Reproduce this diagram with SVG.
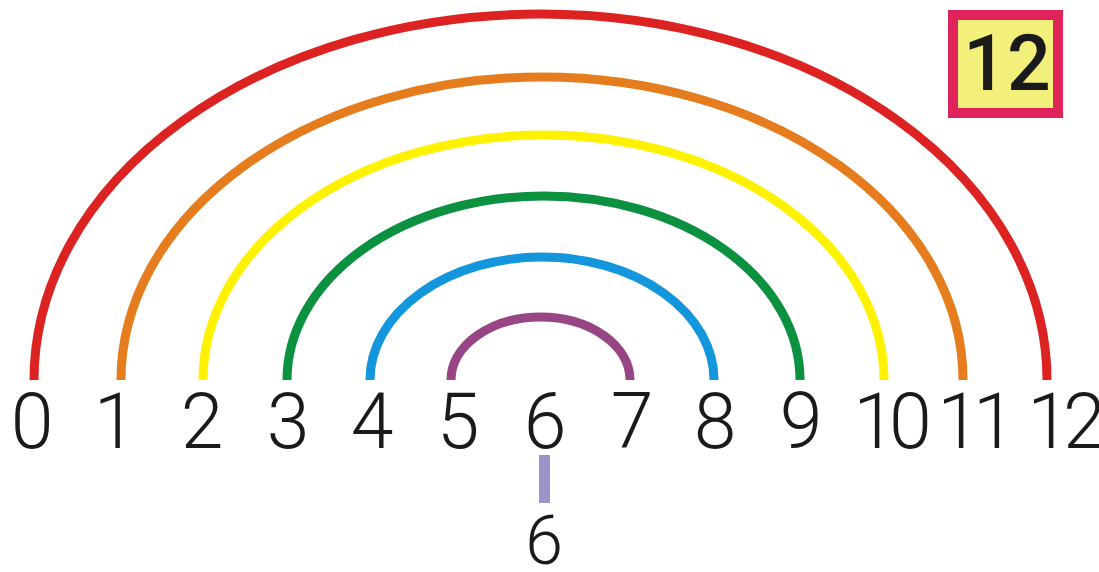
<svg xmlns="http://www.w3.org/2000/svg" width="1099" height="572" viewBox="0 0 1099 572">
<style>
.arc{fill:none;stroke-width:9;stroke-linecap:butt}
.num{font-family:Roboto,"Liberation Sans",sans-serif;font-weight:300;font-size:77px;fill:#1a1a1a;text-anchor:middle}
.two{letter-spacing:-7px}
</style>
<rect width="1099" height="572" fill="#ffffff"/>
<g id="connectors">
<path id="arc-0-12" class="arc" stroke="#dc2322" d="M34 380 A506.5 366 0 0 1 1047 380"/>
<path id="arc-1-11" class="arc" stroke="#e57d1e" d="M121 380 A421 303 0 0 1 963 380"/>
<path id="arc-2-10" class="arc" stroke="#fff200" d="M203 380 A340.5 245 0 0 1 884 380"/>
<path id="arc-3-9" class="arc" stroke="#0b9140" d="M287 380 A256.5 184 0 0 1 800 380"/>
<path id="arc-4-8" class="arc" stroke="#1496dc" d="M370 380 A172 123 0 0 1 714 380"/>
<path id="arc-5-7" class="arc" stroke="#984585" d="M451 380 A89.5 63 0 0 1 630 380"/>
<line id="bar-6" x1="544.5" y1="455" x2="544.5" y2="503" stroke="#9a94c8" stroke-width="11"/>
</g>
<g id="n0"><text class="num" x="32" y="448">0</text></g>
<g id="n1"><text class="num" x="115" y="448">1</text></g>
<g id="n2"><text class="num" x="202" y="448">2</text></g>
<g id="n3"><text class="num" x="288" y="448">3</text></g>
<g id="n4"><text class="num" x="372" y="448">4</text></g>
<g id="n5"><text class="num" x="458" y="448">5</text></g>
<g id="n6"><text class="num" x="545" y="448">6</text></g>
<g id="n7"><text class="num" x="632" y="448">7</text></g>
<g id="n8"><text class="num" x="715" y="448">8</text></g>
<g id="n9"><text class="num" x="801" y="448">9</text></g>
<g id="n10"><text class="num two" x="889" y="448">10</text></g>
<g id="n11"><text class="num two" x="973" y="448">11</text></g>
<g id="n12"><text class="num two" x="1063" y="448">12</text></g>
<g id="n6b"><text class="num" x="544" y="564" style="font-size:68px">6</text></g>
<g id="total">
<rect x="953" y="15" width="105" height="98" fill="#f3ef7b" stroke="#e0245b" stroke-width="10"/>
<text class="num" x="1007" y="90" style="font-weight:500">12</text>
</g>
</svg>
